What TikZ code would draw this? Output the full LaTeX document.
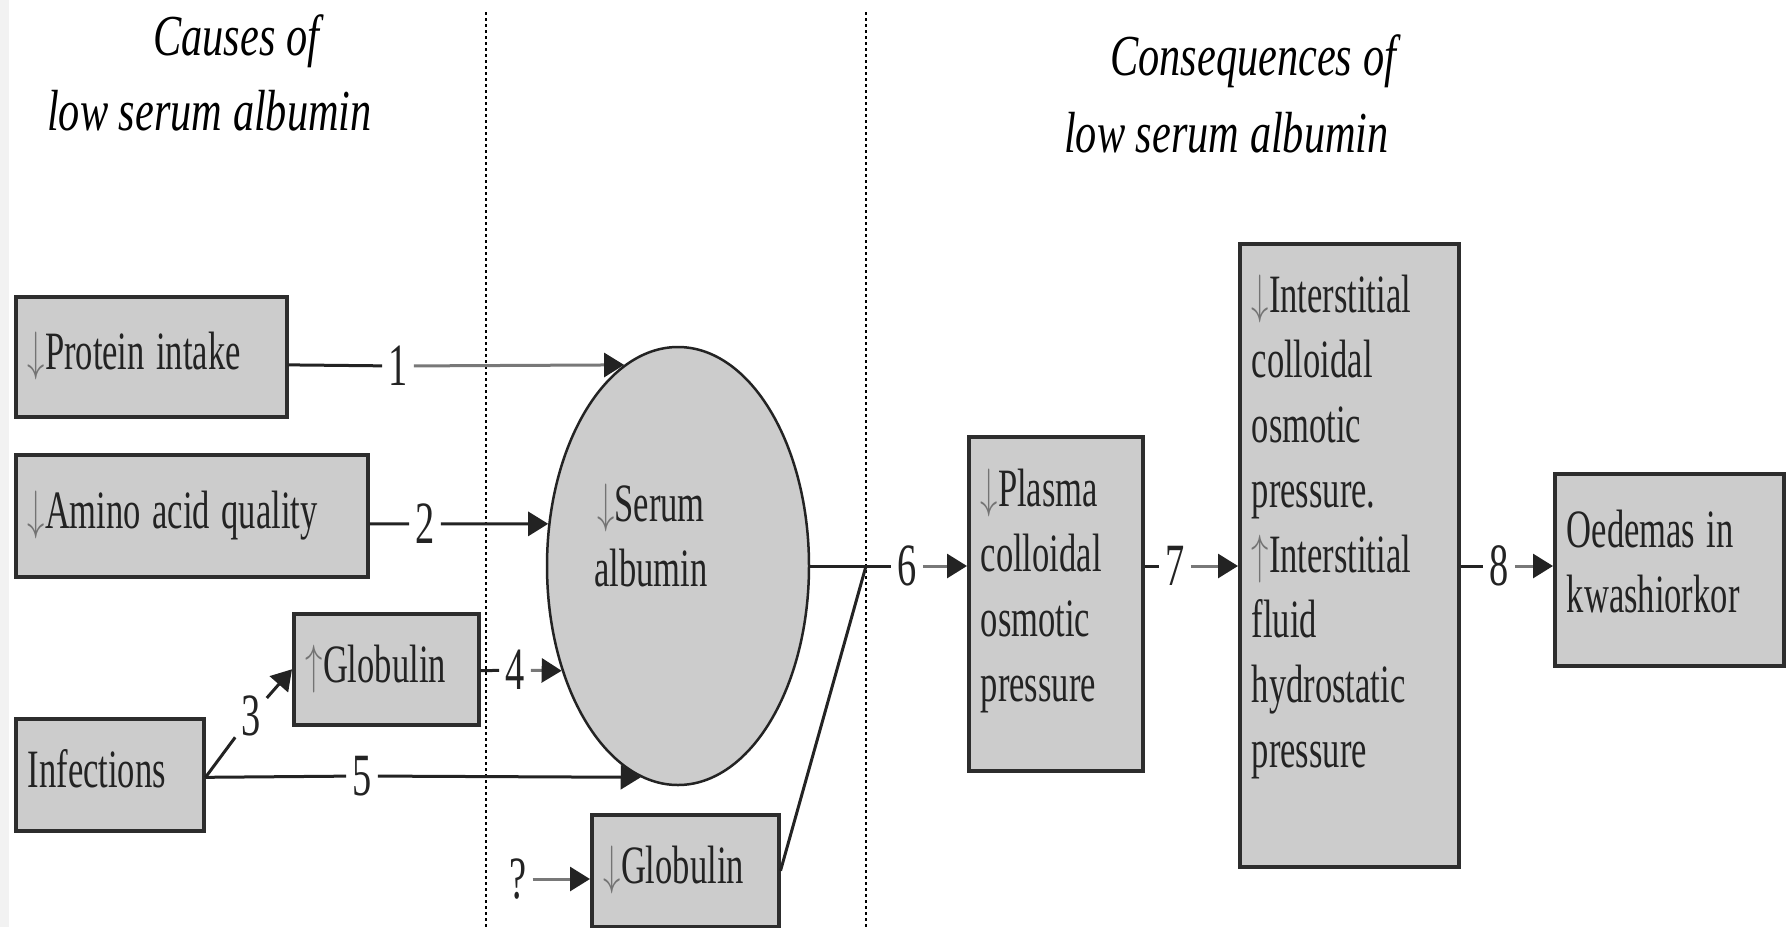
\documentclass[tikz,border=0pt]{standalone}
\usepackage{fontspec}
\setmainfont{Liberation Serif}
\usepackage{graphicx}
\usetikzlibrary{arrows.meta,shapes.geometric}
% scalable symbol font for the up/down arrows
\DeclareFontShape{OMS}{cmsy}{m}{n}{<->cmsy10}{}

\definecolor{boxfill}{RGB}{204,204,204}
\definecolor{boxline}{RGB}{45,45,45}
\definecolor{inkgray}{RGB}{35,35,35}
\definecolor{fadegray}{RGB}{120,120,120}
\definecolor{arrgray}{RGB}{115,115,115}
\definecolor{edgegray}{RGB}{242,242,242}

\newcommand{\narrow}[1]{\scalebox{0.64}[1]{#1}}
\newcommand{\cond}[2][l]{\noindent\narrow{\begin{tabular}{@{}#1@{}}#2\end{tabular}}}
\newcommand{\headtxt}[1]{\scalebox{0.73}[1]{#1}}
\newcommand{\decr}{{\color{arrgray}$\downarrow$}}
\newcommand{\incr}{{\color{arrgray}$\uparrow$}}

\tikzset{
  box/.style={rectangle, draw=boxline, fill=boxfill, line width=3.5pt, anchor=north west,
    inner xsep=12pt, inner ysep=0pt, align=left, text=inkgray},
  headline/.style={anchor=base west, inner sep=0pt, font=\fontsize{58}{60}\selectfont\itshape},
  num/.style={inner xsep=6pt, inner ysep=2pt, text=inkgray, font=\fontsize{60}{62}\selectfont},
  lnk/.style={color=inkgray, line width=3pt},
  lnkg/.style={color=fadegray, line width=3pt},
  divider/.style={line width=1.3pt, dash pattern=on 3pt off 3pt},
}

\begin{document}
\begin{tikzpicture}[x=1pt, y=-1pt, >={Triangle[length=20pt,width=24pt,color=inkgray]},
    font=\fontsize{54}{65}\selectfont]
  \useasboundingbox (0,0) rectangle (1788,927);
  \fill[edgegray] (0,0) rectangle (9,927);

  % headings and dividers
  \node[headline] (cause1) at (153,55) {\headtxt{Causes of}};
  \node[headline] (cause2) at (47,130) {\headtxt{low serum albumin}};
  \node[headline] (conseq1) at (1110,75) {\headtxt{Consequences of}};
  \node[headline] (conseq2) at (1064,152) {\headtxt{low serum albumin}};
  \draw[divider] (486,12) -- (486,927);
  \draw[divider] (866,12) -- (866,927);

  % causes
  \node[box, text width=247pt, minimum height=120pt] (prot) at (14,295) {\cond{\decr Protein intake}};
  \node[box, text width=328pt, minimum height=122pt] (amino) at (14,453) {\cond{\decr Amino acid quality}};
  \node[box, text width=164pt, minimum height=112pt] (inf) at (14,717) {\cond{Infections}};
  \node[box, text width=161pt, minimum height=111pt] (glob1) at (292,612) {\cond{\incr Globulin}};
  \node[box, text width=163pt, minimum height=112pt] (glob2) at (590,813) {\cond{\decr Globulin}};

  % serum albumin
  \node[ellipse, draw=inkgray, fill=boxfill, line width=2.5pt, inner sep=0pt,
    minimum width=262pt, minimum height=438pt] (alb) at (678,566) {};
  \node[text=inkgray, inner sep=0pt] (albtxt) at (651,541) {\cond[c]{\decr Serum\\albumin}};

  % consequences
  \node[box, text width=150pt, minimum height=334pt] (plas) at (967,435)
    {\cond{\decr Plasma\\colloidal\\osmotic\\pressure\\[26pt]}};
  \node[box, text width=195pt, minimum height=623pt] (inter) at (1238,242)
    {\cond{\decr Interstitial\\colloidal\\osmotic\\pressure.\\\incr Interstitial\\fluid\\hydrostatic\\pressure\\[56pt]}};
  \node[box, text width=205pt, minimum height=192pt] (oed) at (1553,472)
    {\cond{Oedemas in\\kwashiorkor\\[6pt]}};

  \coordinate (a1) at (alb.105);
  \coordinate (a2) at (alb.162);
  \coordinate (a4) at (alb.222);
  \coordinate (a5) at (alb.260);
  \coordinate (j6) at (866,566);

  % numbered links
  \node[num] (n1) at (398,366) {\narrow{1}};
  \node[num] (n2) at (425,524) {\narrow{2}};
  \node[num] (n3) at (251,716) {\narrow{3}};
  \node[num] (n4) at (515,670) {\narrow{4}};
  \node[num] (n5) at (362,776) {\narrow{5}};
  \node[num] (n6) at (907,566) {\narrow{6}};
  \node[num] (n7) at (1175,566) {\narrow{7}};
  \node[num] (n8) at (1499,566) {\narrow{8}};
  \node[num] (nq) at (518,879) {\narrow{?}};

  \path[lnk]
    (prot.east |- a1) edge (n1)
    (amino.east |- a2) edge (n2)
    (inf.east |- a5) edge (n3)
    (inf.east |- a5) edge (n5)
    (glob1.east |- a4) edge (n4)
    (alb.east) edge (j6)
    (glob2.east) edge (j6)
    (j6) edge (n6)
    (plas.east |- j6) edge (n7)
    (inter.east |- j6) edge (n8);
  \path[lnk,->]
    (n2) edge (a2)
    (n3) edge (glob1.west)
    (n5) edge (a5);
  \path[lnkg,->]
    (n1) edge (a1)
    (n4) edge (a4)
    (nq) edge (nq -| glob2.west)
    (n6) edge (plas.west |- j6)
    (n7) edge (inter.west |- j6)
    (n8) edge (oed.west |- j6);
\end{tikzpicture}
\end{document}
